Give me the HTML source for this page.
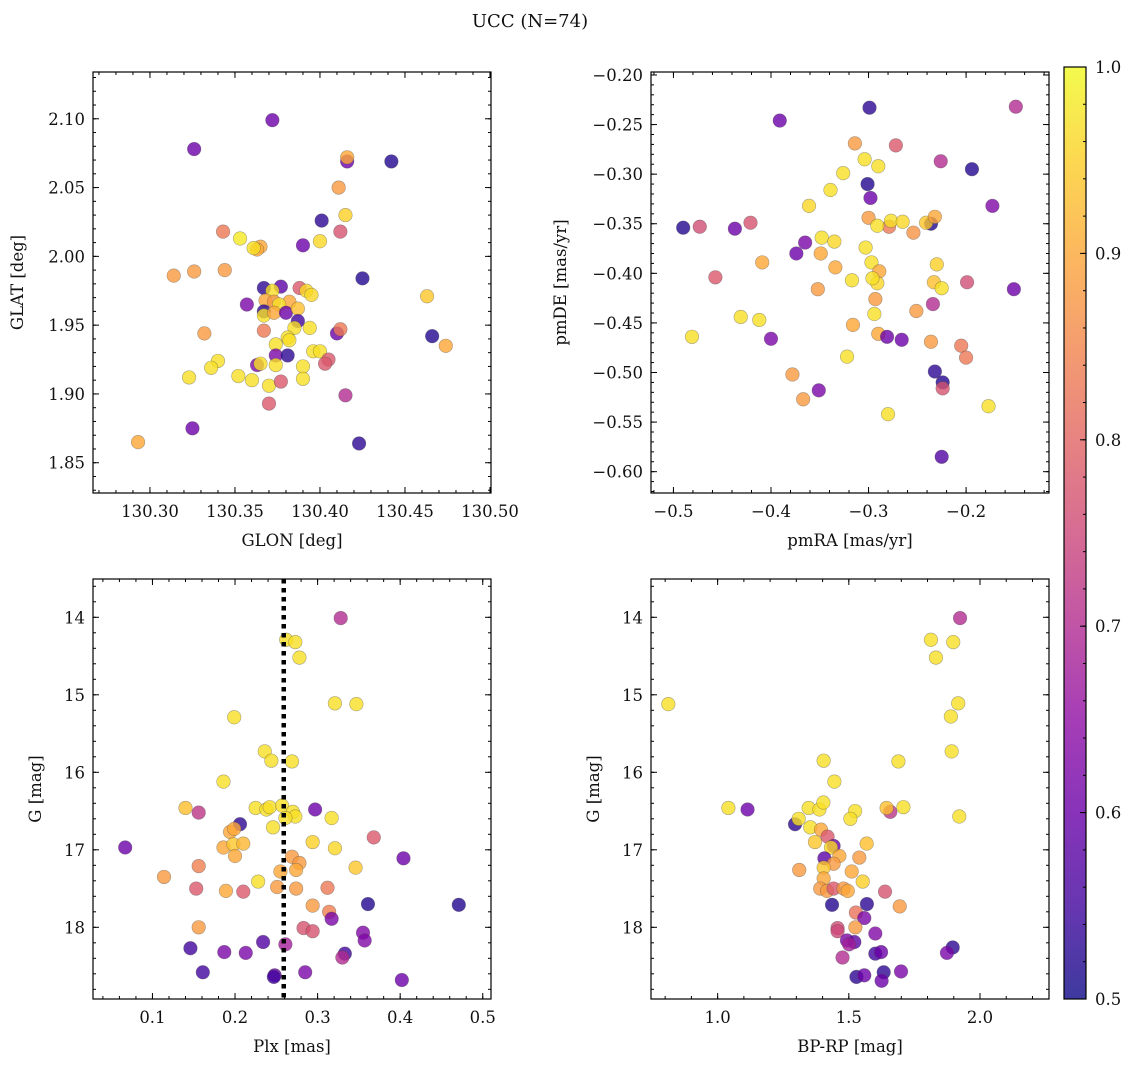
<!DOCTYPE html>
<html><head><meta charset="utf-8"><style>
html,body{margin:0;padding:0;background:#fff;}
svg text{font-family:"DejaVu Serif","Liberation Serif",serif;fill:#111;}
</style></head>
<body>
<svg id="fig" xmlns="http://www.w3.org/2000/svg" width="1136" height="1067" viewBox="0 0 1136 1067">
<rect width="1136" height="1067" fill="#fff"/>
<text x="530" y="27" text-anchor="middle" font-size="18">UCC (N=74)</text>
<defs><linearGradient id="plasma" x1="0" y1="1" x2="0" y2="0"></linearGradient></defs>
</svg>
<script>
// Panel 1: GLON, GLAT, membership probability
const panel1 = [[130.372,2.099,.6],[130.326,2.078,.6],[130.416,2.069,.6],[130.416,2.072,.9],[130.442,2.069,.52],[130.411,2.050,.88],[130.401,2.026,.53],[130.415,2.030,.95],[130.412,2.018,.77],[130.343,2.018,.83],[130.353,2.013,.98],[130.365,2.007,.9],[130.363,2.005,.9],[130.361,2.006,.97],[130.390,2.008,.6],[130.400,2.011,.96],[130.314,1.986,.88],[130.326,1.989,.88],[130.344,1.990,.88],[130.425,1.984,.52],[130.463,1.971,.94],[130.466,1.942,.52],[130.474,1.935,.9],
[130.367,1.977,.53],[130.377,1.978,.58],[130.388,1.977,.78],[130.372,1.975,.97],[130.392,1.975,.96],[130.395,1.972,.96],[130.357,1.965,.62],[130.368,1.968,.9],[130.373,1.967,.88],[130.382,1.967,.9],[130.376,1.965,.97],[130.367,1.960,.53],[130.367,1.957,.97],[130.373,1.959,.9],[130.380,1.959,.6],[130.387,1.962,.93],[130.387,1.953,.55],[130.385,1.948,.97],[130.394,1.948,.97],[130.367,1.946,.83],[130.332,1.944,.88],[130.381,1.941,.97],[130.382,1.939,.97],[130.410,1.944,.6],[130.412,1.947,.83],[130.374,1.936,.97],[130.374,1.928,.62],[130.381,1.928,.53],[130.396,1.931,.97],[130.400,1.931,.97],[130.405,1.925,.78],[130.403,1.922,.78],[130.340,1.924,.97],[130.336,1.919,.97],[130.363,1.921,.63],[130.365,1.922,.97],[130.374,1.921,.97],[130.390,1.920,.97],[130.390,1.911,.97],[130.323,1.912,.97],[130.352,1.913,.97],[130.360,1.910,.97],[130.370,1.906,.97],[130.377,1.909,.78],[130.370,1.893,.78],[130.415,1.899,.7],[130.325,1.875,.6],[130.423,1.864,.53],[130.293,1.865,.9]];
// Panel 2: pmRA, pmDE, probability
const panel2 = [[-0.299,-0.233,.53],[-0.149,-0.232,.7],[-0.391,-0.246,.6],[-0.314,-0.269,.88],[-0.272,-0.271,.78],[-0.304,-0.285,.97],[-0.290,-0.292,.97],[-0.226,-0.287,.7],[-0.194,-0.295,.52],[-0.326,-0.299,.97],[-0.301,-0.310,.52],[-0.339,-0.316,.97],[-0.298,-0.324,.6],[-0.173,-0.332,.63],[-0.361,-0.332,.96],[-0.300,-0.344,.88],[-0.279,-0.353,.83],[-0.277,-0.347,.97],[-0.291,-0.352,.97],[-0.265,-0.348,.96],[-0.254,-0.359,.87],[-0.236,-0.350,.52],[-0.241,-0.349,.94],[-0.232,-0.343,.9],[-0.490,-0.354,.52],[-0.473,-0.353,.76],[-0.437,-0.355,.6],[-0.421,-0.349,.77],[-0.348,-0.364,.97],[-0.335,-0.368,.96],[-0.365,-0.369,.62],[-0.374,-0.380,.6],[-0.349,-0.380,.9],[-0.303,-0.374,.97],[-0.409,-0.389,.9],[-0.297,-0.389,.97],[-0.334,-0.394,.9],[-0.230,-0.391,.95],[-0.289,-0.398,.9],[-0.457,-0.404,.78],[-0.317,-0.407,.97],[-0.291,-0.410,.96],[-0.296,-0.405,.97],[-0.233,-0.409,.93],[-0.225,-0.415,.97],[-0.199,-0.409,.76],[-0.151,-0.416,.6],[-0.352,-0.416,.88],[-0.293,-0.426,.88],[-0.234,-0.431,.7],[-0.294,-0.441,.97],[-0.251,-0.438,.88],[-0.431,-0.444,.97],[-0.412,-0.447,.97],[-0.481,-0.464,.97],[-0.316,-0.452,.9],[-0.290,-0.461,.9],[-0.281,-0.464,.6],[-0.266,-0.467,.6],[-0.400,-0.466,.62],[-0.236,-0.469,.88],[-0.205,-0.473,.83],[-0.200,-0.485,.83],[-0.322,-0.484,.97],[-0.232,-0.499,.53],[-0.224,-0.510,.52],[-0.224,-0.516,.77],[-0.378,-0.502,.88],[-0.351,-0.518,.62],[-0.367,-0.527,.88],[-0.177,-0.534,.97],[-0.280,-0.542,.97],[-0.225,-0.585,.57]];
// Panel 3: Plx, G, probability
const panel3 = [[0.328,14.01,.7],[0.262,14.29,.97],[0.273,14.32,.97],[0.278,14.52,.97],[0.321,15.11,.97],[0.347,15.12,.97],[0.199,15.29,.97],[0.236,15.73,.97],[0.244,15.85,.97],[0.269,15.86,.97],[0.186,16.12,.97],[0.140,16.46,.93],[0.156,16.52,.72],[0.297,16.48,.6],[0.225,16.46,.97],[0.238,16.48,.97],[0.242,16.45,.97],[0.257,16.43,.97],[0.270,16.51,.97],[0.273,16.57,.97],[0.261,16.59,.97],[0.317,16.59,.97],[0.206,16.67,.53],[0.246,16.71,.97],[0.194,16.77,.9],[0.199,16.73,.9],[0.067,16.97,.6],[0.368,16.84,.78],[0.186,16.97,.9],[0.198,16.93,.94],[0.210,16.92,.92],[0.200,17.08,.9],[0.294,16.90,.95],[0.321,16.98,.96],[0.404,17.11,.6],[0.269,17.09,.88],[0.278,17.17,.88],[0.274,17.26,.9],[0.255,17.28,.9],[0.346,17.23,.94],[0.156,17.21,.84],[0.114,17.35,.88],[0.228,17.41,.97],[0.153,17.50,.78],[0.189,17.53,.9],[0.210,17.54,.78],[0.251,17.48,.88],[0.274,17.50,.88],[0.312,17.49,.83],[0.361,17.70,.52],[0.471,17.71,.52],[0.294,17.72,.88],[0.314,17.80,.84],[0.317,17.89,.62],[0.156,18.00,.88],[0.283,18.01,.77],[0.294,18.05,.77],[0.355,18.07,.63],[0.357,18.17,.63],[0.146,18.27,.55],[0.234,18.19,.57],[0.261,18.22,.68],[0.187,18.32,.62],[0.213,18.33,.62],[0.333,18.34,.55],[0.330,18.39,.7],[0.161,18.58,.55],[0.248,18.62,.6],[0.247,18.64,.55],[0.285,18.58,.62],[0.402,18.68,.6]];
// Panel 4: BP-RP, G, probability
const panel4 = [[1.924,14.01,.7],[1.813,14.29,.97],[1.898,14.32,.97],[1.832,14.52,.97],[0.812,15.12,.97],[1.917,15.11,.97],[1.889,15.28,.97],[1.892,15.73,.97],[1.404,15.85,.97],[1.689,15.86,.97],[1.445,16.12,.97],[1.041,16.46,.97],[1.114,16.48,.6],[1.347,16.46,.97],[1.388,16.48,.97],[1.403,16.39,.97],[1.524,16.50,.97],[1.506,16.60,.97],[1.658,16.51,.72],[1.644,16.46,.93],[1.708,16.45,.97],[1.921,16.57,.97],[1.295,16.67,.53],[1.309,16.60,.97],[1.353,16.71,.97],[1.394,16.74,.9],[1.419,16.83,.78],[1.371,16.90,.94],[1.442,16.95,.6],[1.432,16.97,.96],[1.568,16.92,.93],[1.464,17.08,.9],[1.407,17.11,.58],[1.442,17.18,.88],[1.540,17.10,.88],[1.404,17.23,.94],[1.311,17.26,.88],[1.511,17.28,.9],[1.404,17.37,.9],[1.553,17.41,.95],[1.391,17.50,.88],[1.417,17.53,.88],[1.442,17.50,.78],[1.480,17.50,.88],[1.496,17.53,.9],[1.638,17.54,.77],[1.436,17.71,.52],[1.569,17.70,.53],[1.694,17.73,.88],[1.527,17.81,.82],[1.559,17.88,.62],[1.525,18.00,.88],[1.457,18.01,.76],[1.457,18.05,.75],[1.601,18.08,.63],[1.493,18.17,.62],[1.521,18.19,.58],[1.501,18.22,.68],[1.601,18.34,.55],[1.623,18.32,.6],[1.476,18.39,.7],[1.896,18.26,.53],[1.874,18.33,.62],[1.633,18.58,.53],[1.699,18.57,.62],[1.529,18.64,.53],[1.559,18.62,.6],[1.625,18.69,.6]];
const plxLine = 0.259;
const cbarTicks = [0.5,0.6,0.7,0.8,0.9,1.0];

const NS='http://www.w3.org/2000/svg';
const svg=document.getElementById('fig');
const plasmaStops=['#0d0887','#41049d','#6a00a8','#8f0da4','#b12a90','#cc4778','#e16462','#f2844b','#fca636','#fcce25','#f0f921'];
function hex(h){return [1,3,5].map(i=>parseInt(h.substr(i,2),16));}
function plasma(t){t=Math.max(0,Math.min(1,t));const f=t*10,i=Math.min(9,Math.floor(f)),u=f-i;const a=hex(plasmaStops[i]),b=hex(plasmaStops[i+1]);return 'rgb('+a.map((v,k)=>Math.round(v+(b[k]-v)*u)).join(',')+')';}
function el(tag,attrs,parent){const e=document.createElementNS(NS,tag);for(const k in attrs)e.setAttribute(k,attrs[k]);(parent||svg).appendChild(e);return e;}
const grad=document.getElementById('plasma');
plasmaStops.forEach((c,i)=>el('stop',{offset:(i*10)+'%','stop-color':c},grad));

function range(a,b,s){const r=[];for(let v=Math.ceil(a/s-1e-9)*s;v<=b+1e-9;v+=s)r.push(Math.round(v/s)*s);return r;}

const FS=16.5;
function panel(name,box,xd,yd,inv,data,xMaj,xMin,yMaj,yMin,xdec,ydec,xlabel,ylabel,ylx){
  const g=el('g',{});
  
  
  const X=v=>box.x+(v-xd[0])/(xd[1]-xd[0])*box.w;
  const Y=v=>inv?box.y+(v-yd[0])/(yd[1]-yd[0])*box.h:box.y+box.h-(v-yd[0])/(yd[1]-yd[0])*box.h;
  const pts=el('g',{},g);
  
  
  data.forEach(d=>{
    const c=el('circle',{cx:X(d[0]),cy:Y(d[1]),r:6.8,fill:plasma((d[2]-0.5)/0.5),'fill-opacity':0.8,stroke:'rgba(70,70,70,0.45)','stroke-width':0.6},pts);
    
    
  });
  const ax=el('g',{},g);
  
  
  el('rect',{x:box.x,y:box.y,width:box.w,height:box.h,fill:'none',stroke:'#000','stroke-width':1.2},ax);
  const tk=(x1,y1,x2,y2)=>el('line',{x1,y1,x2,y2,stroke:'#000','stroke-width':1},ax);
  range(xd[0],xd[1],xMin).forEach(v=>{const x=X(v);tk(x,box.y+box.h,x,box.y+box.h-3);tk(x,box.y,x,box.y+3);});
  range(yd[0],yd[1],yMin).forEach(v=>{const y=Y(v);tk(box.x,y,box.x+3,y);tk(box.x+box.w,y,box.x+box.w-3,y);});
  range(xd[0],xd[1],xMaj).forEach(v=>{const x=X(v);tk(x,box.y+box.h,x,box.y+box.h-6);tk(x,box.y,x,box.y+6);
    const t=el('text',{x:x,y:box.y+box.h+24,'text-anchor':'middle','font-size':FS},ax);t.textContent=v.toFixed(xdec).replace('-','\u2212');
    
    });
  range(yd[0],yd[1],yMaj).forEach(v=>{const y=Y(v);tk(box.x,y,box.x+6,y);tk(box.x+box.w,y,box.x+box.w-6,y);
    const t=el('text',{x:box.x-8,y:y+6,'text-anchor':'end','font-size':FS},ax);t.textContent=v.toFixed(ydec).replace('-','\u2212');
    
    });
  const xl=el('text',{x:box.x+box.w/2,y:box.y+box.h+53,'text-anchor':'middle','font-size':FS},g);xl.textContent=xlabel;
  
  
  const cy=box.y+box.h/2;
  const yl=el('text',{x:ylx,y:cy,'text-anchor':'middle','font-size':FS,transform:'rotate(-90 '+ylx+' '+cy+')'},g);yl.textContent=ylabel;
  
  
  return {X,Y,g};
}

panel('glon-glat-panel',{x:93,y:72,w:398,h:421},[130.2665,130.5006],[1.828,2.134],false,panel1,0.05,0.01,0.05,0.01,2,2,'GLON [deg]','GLAT [deg]',23);
panel('pm-panel',{x:651,y:72,w:398,h:421},[-0.523,-0.115],[-0.6215,-0.197],false,panel2,0.1,0.02,0.05,0.01,1,2,'pmRA [mas/yr]','pmDE [mas/yr]',566);
const p3=panel('plx-g-panel',{x:93,y:579,w:398,h:420},[0.028,0.510],[13.506,18.925],true,panel3,0.1,0.02,1,0.2,1,0,'Plx [mas]','G [mag]',41);
panel('color-magnitude-panel',{x:651,y:579,w:398,h:420},[0.746,2.263],[13.506,18.925],true,panel4,0.5,0.1,1,0.2,1,0,'BP-RP [mag]','G [mag]',599);

const vl=el('line',{x1:p3.X(plxLine),x2:p3.X(plxLine),y1:579,y2:999,stroke:'#000','stroke-width':4.5,'stroke-dasharray':'4.5 4.5'});



// colorbar
const cb=el('g',{});


const cbx=1064,cby=67,cbw=22,cbh=932;
el('rect',{x:cbx,y:cby,width:cbw,height:cbh,fill:'url(#plasma)','fill-opacity':0.8},cb);
el('rect',{x:cbx,y:cby,width:cbw,height:cbh,fill:'none',stroke:'#000','stroke-width':1.2},cb);
const CY=v=>cby+cbh-(v-0.5)/0.5*cbh;
range(0.5,1.0,0.02).forEach(v=>{el('line',{x1:cbx+cbw,x2:cbx+cbw-3,y1:CY(v),y2:CY(v),stroke:'#000'},cb);});
cbarTicks.forEach(v=>{el('line',{x1:cbx+cbw,x2:cbx+cbw-6,y1:CY(v),y2:CY(v),stroke:'#000'},cb);
  const t=el('text',{x:cbx+cbw+9,y:CY(v)+6,'font-size':FS},cb);t.textContent=v.toFixed(1);
  
  });
</script>
</body></html>
